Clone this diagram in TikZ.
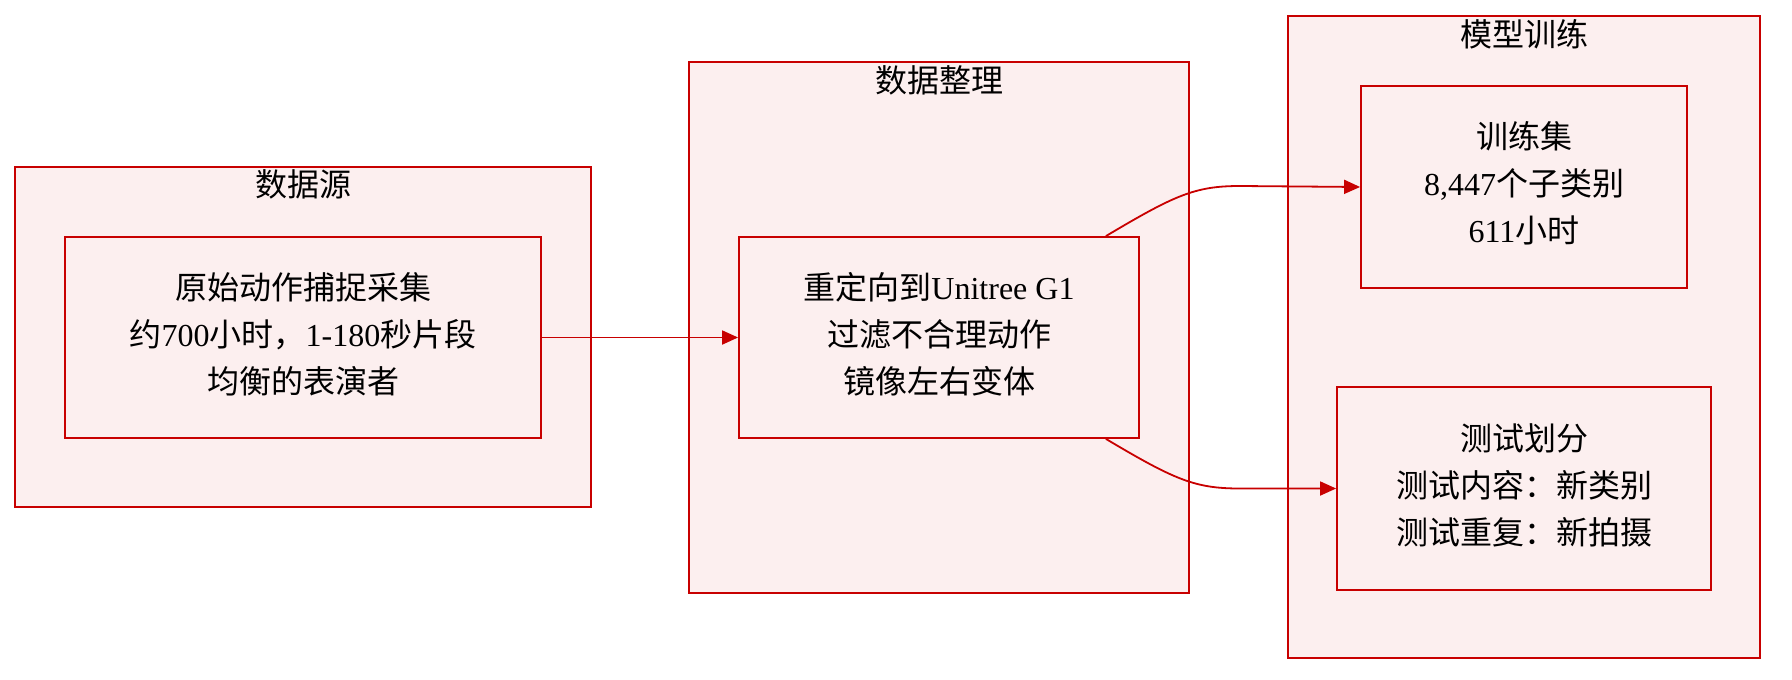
\documentclass[tikz,border=0pt]{standalone}
\usepackage{fontspec}
\setmainfont{Liberation Serif}
\newfontfamily\cjk{Noto Sans CJK SC}
\newcommand\zh[1]{{\cjk #1}}
\usetikzlibrary{arrows.meta}
\definecolor{edge}{HTML}{C80000}
\definecolor{boxfill}{HTML}{FCEFEF}
\tikzset{
  grp/.style={draw=edge, fill=boxfill, line width=1.8pt, inner sep=0pt},
  item/.style={draw=edge, fill=boxfill, line width=1.8pt, inner sep=0pt, align=center,
    font=\fontsize{32}{47}\selectfont},
  txt/.style={inner sep=0pt, align=center, font=\fontsize{32}{47}\selectfont},
  ttl/.style={font=\cjk\fontsize{32}{40}\selectfont, inner sep=0pt},
  conn/.style={draw=edge, line width=1.8pt, -{Triangle[length=16pt,width=14pt]}},
}
\begin{document}
\begin{tikzpicture}[x=1pt,y=-1pt]
\useasboundingbox (0,0) rectangle (1792,680);
% groups
\node[grp, minimum width=576pt, minimum height=340pt] (g1) at (303,337) {};
\node[grp, minimum width=500pt, minimum height=531pt] (g2) at (939,327.5) {};
\node[grp, minimum width=472pt, minimum height=642pt] (g3) at (1524,337) {};
\node[ttl] (t1) at (303,184) {数据源};
\node[ttl] (t2) at (939,80) {数据整理};
\node[ttl] (t3) at (1524,34) {模型训练};
% items
\node[item, minimum width=476pt, minimum height=201pt] (a) at (303,337.5) {};
\node[item, minimum width=400pt, minimum height=201pt] (b) at (939,337.5) {};
\node[item, minimum width=326pt, minimum height=202pt] (c) at (1524,187) {};
\node[item, minimum width=374pt, minimum height=203pt] (d) at (1524,488.5) {};
\node[txt] (at) at (303,334)
  {\zh{原始动作捕捉采集}\\\zh{约}700\zh{小时，}1-180\zh{秒片段}\\\zh{均衡的表演者}};
\node[txt] (bt') at (939,334)
  {\zh{重定向到}Unitree G1\\\zh{过滤不合理动作}\\\zh{镜像左右变体}};
\node[txt] (ct) at (1524,183)
  {\zh{训练集}\\8,447\zh{个子类别}\\611\zh{小时}};
\node[txt] (dt) at (1524,485)
  {\zh{测试划分}\\\zh{测试内容：新类别}\\\zh{测试重复：新拍摄}};
% connectors
\draw[conn] (a.east) -- (b.west);
\coordinate (bt) at ([xshift=-34pt]b.north east);
\coordinate (bb) at ([xshift=-34pt]b.south east);
\draw[conn] (bt) .. controls (1175,195) and (1195,186) .. (1240,186) -- (c.west);
\draw[conn] (bb) .. controls (1175,480) and (1195,488.5) .. (1240,488.5) -- (d.west);
\end{tikzpicture}
\end{document}
